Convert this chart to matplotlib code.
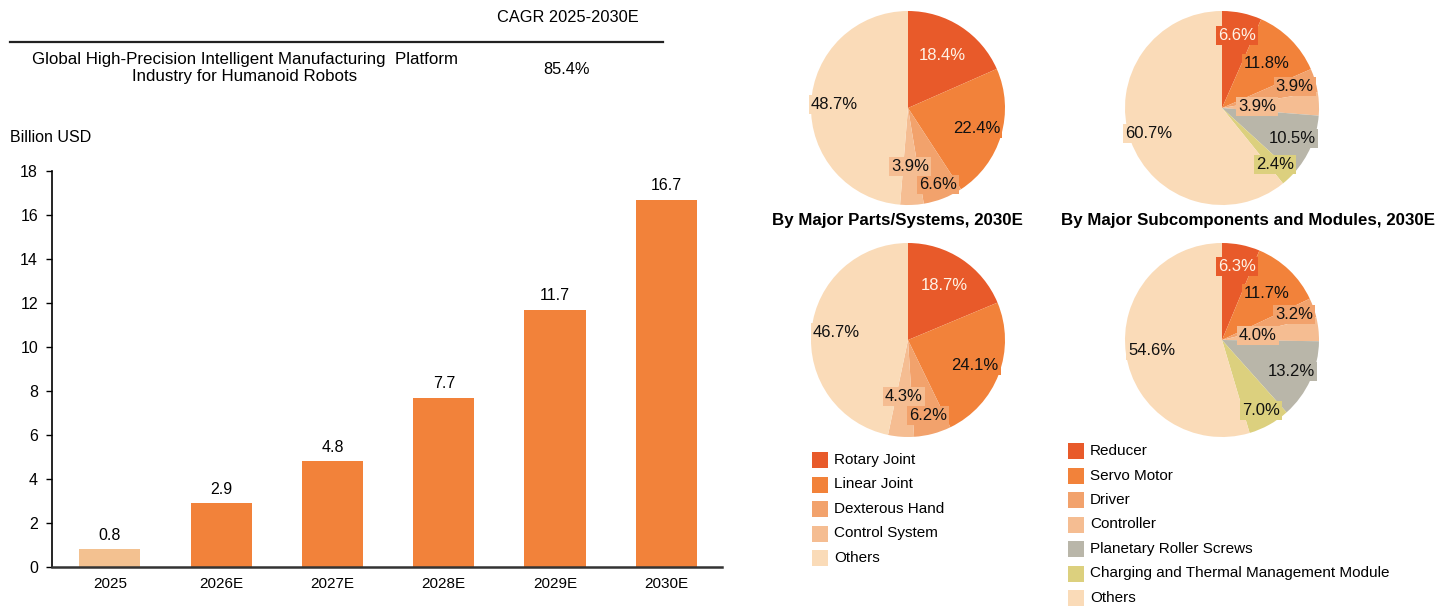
import numpy as np
import matplotlib
matplotlib.use('Agg')
import matplotlib.pyplot as plt
from matplotlib.patches import Rectangle

plt.rcParams['font.family'] = ['Liberation Sans', 'DejaVu Sans']

# market size, billion USD
years = ['2025', '2026E', '2027E', '2028E', '2029E', '2030E']
market = [0.8, 2.9, 4.8, 7.7, 11.7, 16.7]
cagr = '85.4%'

# 2030E shares (%)
parts_labels = ['Rotary Joint', 'Linear Joint', 'Dexterous Hand', 'Control System', 'Others']
parts_top = [18.4, 22.4, 6.6, 3.9, 48.7]
parts_bottom = [18.7, 24.1, 6.2, 4.3, 46.7]
sub_labels = ['Reducer', 'Servo Motor', 'Driver', 'Controller', 'Planetary Roller Screws',
              'Charging and Thermal Management Module', 'Others']
sub_top = [6.6, 11.8, 3.9, 3.9, 10.5, 2.4, 60.7]
sub_bottom = [6.3, 11.7, 3.2, 4.0, 13.2, 7.0, 54.6]

DARK = '#E85A2A'
ORANGE = '#F2823A'
MID = '#F2A26C'
LIGHT = '#F5BD92'
PALE = '#FADBB8'
GREY = '#B9B6A9'
OLIVE = '#DCD07E'
parts_colors = [DARK, ORANGE, MID, LIGHT, PALE]
sub_colors = [DARK, ORANGE, MID, LIGHT, GREY, OLIVE, PALE]

W, H = 1453, 607
fig = plt.figure(figsize=(W / 100, H / 100), dpi=100)


def px_axes(x0, y0, x1, y1):
    # pixel box (top-left origin) -> figure axes
    return fig.add_axes([x0 / W, 1 - y1 / H, (x1 - x0) / W, (y1 - y0) / H])


# ---- bar chart ----
ax = px_axes(52, 171, 722, 567)
bar_colors = ['#F3C190'] + [ORANGE] * (len(years) - 1)
x = np.arange(len(years))
ax.bar(x, market, width=0.55, color=bar_colors)
for xi, v in zip(x, market):
    ax.text(xi, v + 0.3, f'{v:.1f}', ha='center', va='bottom', fontsize=11.5)
ax.set_xlim(-0.52, 5.5)
ax.set_ylim(0, 18)
ax.set_yticks(range(0, 19, 2))
ax.set_xticks(x)
ax.set_xticklabels(years)
ax.tick_params(axis='y', labelsize=11.5, length=4, width=1, pad=6)
ax.tick_params(axis='x', labelsize=11, length=0, pad=7)
for s in ['top', 'right']:
    ax.spines[s].set_visible(False)
ax.spines['left'].set_linewidth(1.2)
ax.spines['bottom'].set_linewidth(1.8)
ax.spines['bottom'].set_color('#333333')

fig.text(10 / W, 1 - 138 / H, 'Billion USD', fontsize=11.5, va='center')

# CAGR header
fig.text(568 / W, 1 - 18 / H, 'CAGR 2025-2030E', fontsize=11.8, ha='center', va='center')
fig.add_artist(plt.Line2D([10 / W, 663 / W], [1 - 42 / H, 1 - 42 / H], color='#222222', lw=1.6))
fig.text(245 / W, 1 - 68 / H,
         'Global High-Precision Intelligent Manufacturing  Platform\nIndustry for Humanoid Robots',
         fontsize=12.2, ha='center', va='center', linespacing=1.1)
fig.text(566 / W, 1 - 70 / H, cagr, fontsize=11.8, ha='center', va='center')


# ---- pies ----
def draw_pie(cx, cy, values, colors, dists, r=97):
    pax = px_axes(cx - r, cy - r, cx + r, cy + r)
    wedges, _ = pax.pie(values, colors=colors, startangle=90, counterclock=False,
                        wedgeprops=dict(linewidth=0))
    for i, (w, v, d) in enumerate(zip(wedges, values, dists)):
        mid = np.deg2rad((w.theta1 + w.theta2) / 2)
        tc = '#FFF3E6' if i == 0 else '#111111'
        pax.text(d * np.cos(mid), d * np.sin(mid), f'{v:.1f}%', ha='center', va='center',
                 fontsize=12, color=tc,
                 bbox=dict(boxstyle='square,pad=0.12', fc=colors[i], ec='none'))
    pax.set_xlim(-1, 1)
    pax.set_ylim(-1, 1)
    pax.set_aspect('equal')
    pax.axis('off')


draw_pie(908, 108, parts_top, parts_colors, [0.65, 0.74, 0.85, 0.6, 0.76])
draw_pie(1222, 108, sub_top, sub_colors, [0.76, 0.65, 0.78, 0.36, 0.79, 0.8, 0.8])
draw_pie(908, 340, parts_bottom, parts_colors, [0.67, 0.74, 0.8, 0.58, 0.74])
draw_pie(1222, 340, sub_bottom, sub_colors, [0.77, 0.67, 0.79, 0.37, 0.79, 0.83, 0.73])

fig.text(897 / W, 1 - 220 / H, 'By Major Parts/Systems, 2030E', fontsize=12.2,
         fontweight='bold', ha='center', va='center')
fig.text(1248 / W, 1 - 220 / H, 'By Major Subcomponents and Modules, 2030E', fontsize=12.2,
         fontweight='bold', ha='center', va='center')


# ---- legends ----
def draw_legend(x0, y0, step, labels, colors):
    for i, (lab, c) in enumerate(zip(labels, colors)):
        y = y0 + i * step
        fig.add_artist(Rectangle((x0 / W, 1 - (y + 8) / H), 16 / W, 16 / H,
                                 transform=fig.transFigure, fc=c, ec='none'))
        fig.text((x0 + 22) / W, 1 - y / H, lab, fontsize=11, va='center')


draw_legend(812, 460, 24.5, parts_labels, parts_colors)
draw_legend(1068, 451, 24.5, sub_labels, sub_colors)

fig.savefig('out.png', dpi=100)
